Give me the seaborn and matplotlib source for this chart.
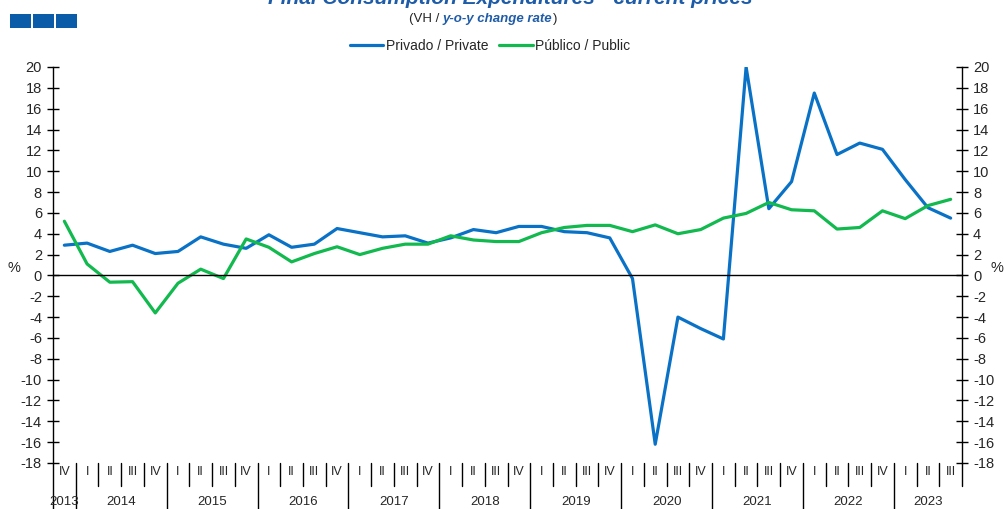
import numpy as np
import pandas as pd
import seaborn as sns
import matplotlib.pyplot as plt
from matplotlib.patches import Rectangle

# quarterly y-o-y change rates, 2013 IV .. 2023 III
years = ['2013', '2014', '2015', '2016', '2017', '2018', '2019', '2020', '2021', '2022', '2023']
quarters_per_year = [1, 4, 4, 4, 4, 4, 4, 4, 4, 4, 3]
roman = ['I', 'II', 'III', 'IV']

private = [2.9, 3.1, 2.3, 2.9, 2.1, 2.3, 3.7, 3.0, 2.6, 3.9,
           2.7, 3.0, 4.5, 4.1, 3.7, 3.8, 3.1, 3.6, 4.4, 4.1,
           4.7, 4.7, 4.2, 4.1, 3.6, -0.3, -16.2, -4.0, -5.1, -6.1,
           20.0, 6.4, 9.0, 17.5, 11.6, 12.7, 12.1, 9.2, 6.5, 5.5]
public = [5.2, 1.1, -0.65, -0.6, -3.6, -0.75, 0.6, -0.3, 3.5, 2.7,
          1.3, 2.1, 2.75, 2.0, 2.6, 3.0, 3.0, 3.8, 3.4, 3.25,
          3.25, 4.1, 4.6, 4.8, 4.8, 4.2, 4.85, 4.0, 4.4, 5.5,
          5.95, 7.0, 6.3, 6.2, 4.45, 4.6, 6.2, 5.45, 6.7, 7.3]

# quarter labels: 2013 only has IV, 2023 stops at III
quarter_labels = ['IV'] + roman * 9 + roman[:3]
n = len(private)

df = pd.DataFrame({
    'pos': list(range(n)) * 2,
    'value': private + public,
    'serie': ['Privado / Private'] * n + ['Público / Public'] * n,
})

BLUE = '#0A72C6'
GREEN = '#12B94E'
W, H = 1005, 509

sns.set_style('white')
plt.rcParams['font.family'] = ['Liberation Sans', 'DejaVu Sans']
plt.rcParams['axes.unicode_minus'] = False

fig = plt.figure(figsize=(W / 100, H / 100), dpi=100)
ax = fig.add_axes([53 / W, 1 - 463 / H, (962 - 53) / W, (463 - 67) / H])

sns.lineplot(data=df, x='pos', y='value', hue='serie',
             palette={'Privado / Private': BLUE, 'Público / Public': GREEN},
             linewidth=2.3, ax=ax)

ax.set_xlim(-0.5, n - 0.5)
ax.set_ylim(-18, 20)
ax.set_yticks(np.arange(-18, 21, 2))
ax.set_xlabel('')
ax.set_ylabel('')

# zero line with small quarter ticks
ax.spines['top'].set_visible(False)
ax.spines['bottom'].set_position(('data', 0))
for s in ['left', 'right', 'bottom']:
    ax.spines[s].set_color('black')
    ax.spines[s].set_linewidth(1)
ax.set_xticks(np.arange(-0.5, n, 1))
ax.set_xticklabels([])
ax.tick_params(axis='x', direction='out', length=4, width=1, color='black')
ax.tick_params(axis='y', direction='inout', length=8, width=1, color='black',
               left=True, right=True, labelleft=True, labelright=True,
               labelsize=10.5, pad=4)

# category axis under the plot
xt = ax.get_xaxis_transform()
q_y = -(472 - 463) / 396
yr_y = -(502 - 463) / 396
short_end = -(486 - 463) / 396
long_end = -(509 - 463) / 396
for i, q in enumerate(quarter_labels):
    ax.text(i, q_y, q, transform=xt, ha='center', va='center', fontsize=9, clip_on=False)

start = 0
year_edges = []
for y, k in zip(years, quarters_per_year):
    ax.text(start + (k - 1) / 2, yr_y, y, transform=xt, ha='center', va='center',
            fontsize=9.5, clip_on=False)
    year_edges.append(start - 0.5)
    start += k

for b in np.arange(-0.5, n + 0.5, 1):
    end = long_end if b in year_edges else short_end
    ax.plot([b, b], [0, end], transform=xt, color='black', lw=1, clip_on=False)

# legend
sns.move_legend(ax, 'center', bbox_to_anchor=(490 / W, 1 - 46 / H),
                bbox_transform=fig.transFigure, ncol=2, frameon=False, title=None,
                fontsize=10, handlelength=2.4, handletextpad=0.2, columnspacing=0.8)

# titles
fig.text(510 / W, 1 - 4 / H, 'Final Consumption Expenditures - current prices',
         ha='center', va='baseline', fontsize=15, fontweight='bold', fontstyle='italic',
         color='#1F5CA8')
t1 = fig.text(409 / W, 1 - 19 / H, '(VH / ', ha='left', va='center', fontsize=9.5)
t2 = ax.annotate('y-o-y change rate', xy=(1, 0), xycoords=t1, ha='left', va='bottom',
                 fontsize=9.5, fontweight='bold', fontstyle='italic', color='#1F5CA8')
ax.annotate(')', xy=(1, 0), xycoords=t2, ha='left', va='bottom', fontsize=9.5)

fig.text(14 / W, 1 - 268 / H, '%', ha='center', va='center', fontsize=10.5)
fig.text(997 / W, 1 - 268 / H, '%', ha='center', va='center', fontsize=10.5)

# logo squares
for x0 in [10, 33, 56]:
    fig.add_artist(Rectangle((x0 / W, 1 - 28 / H), 21 / W, 14 / H,
                             transform=fig.transFigure, color='#0B5CA8', lw=0))

fig.savefig('out.png', dpi=100)
